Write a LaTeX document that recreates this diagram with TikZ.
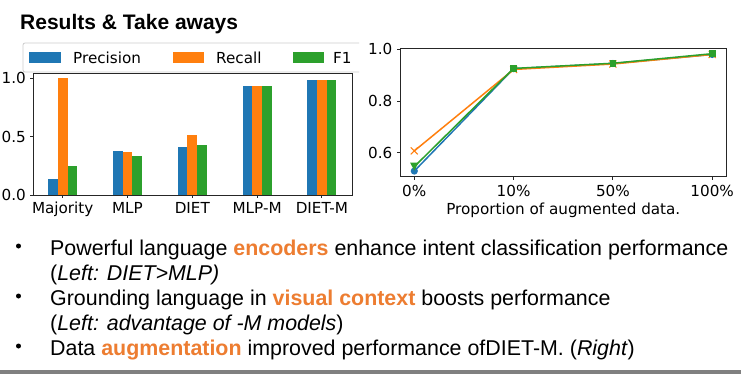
\documentclass[tikz,border=0pt]{standalone}
\usepackage{fontspec}
\setmainfont{Liberation Sans}
\newfontfamily\dv{DejaVu Sans}
\definecolor{mblue}{HTML}{1F77B4}
\definecolor{morange}{HTML}{FF7F0E}
\definecolor{mgreen}{HTML}{2CA02C}
\definecolor{hl}{HTML}{ED7D31}
\newcommand\hlw[1]{{\bfseries\color{hl}#1}}
\tikzset{
  plotfont/.style={font=\dv\fontsize{15.2}{18}\selectfont, inner sep=0pt},
  spine/.style={draw=black!85, line width=0.9pt},
  tickln/.style={black!85, line width=0.9pt},
  bodytext/.style={font=\fontsize{21.4}{26}\selectfont, inner sep=0pt, anchor=base west},
  dataline/.style={line width=1.5pt, line join=round},
}
\begin{document}
\begin{tikzpicture}[x=1pt,y=-1pt]
\useasboundingbox (0,0) rectangle (741,374);
\fill[white] (0,0) rectangle (741,374);

% title
\node[font=\fontsize{21}{25}\selectfont\bfseries, inner sep=0pt, anchor=base west] (title) at (20,30) {Results \& Take aways};

% ---------- left bar chart ----------
\foreach \c/\p/\r/\f in {62.7/0.14/1.0/0.25, 127.5/0.38/0.37/0.33, 192.3/0.41/0.51/0.43, 257.1/0.93/0.93/0.93, 321.9/0.98/0.98/0.98} {
  \fill[mblue]   (\c-14.5,195) rectangle (\c-4.85,195-117*\p);
  \fill[morange] (\c-4.85,195) rectangle (\c+4.85,195-117*\r);
  \fill[mgreen]  (\c+4.85,195) rectangle (\c+14.5,195-117*\f);
  \draw[tickln] (\c,195) -- (\c,198.5);
}
\draw[spine] (33,73) rectangle (352,195);
\foreach \v/\t in {0/0.0, 0.5/0.5, 1/1.0} {
  \draw[tickln] (33,195-117*\v) -- (29.5,195-117*\v);
  \node[plotfont, anchor=east] (ly\t) at (26,195-117*\v) {\t};
}
\foreach \c/\t in {62.7/Majority, 127.5/MLP, 192.3/DIET, 257.1/MLP-M, 321.9/DIET-M} {
  \node[plotfont, anchor=base] (lx\t) at (\c,213.5) {\t};
}
% legend (clipped at right)
\fill[white, opacity=0.85] (23,43) rectangle (359,72);
\draw[draw=black!20, line width=0.8pt, rounded corners=2pt] (359,43) -- (23,43) -- (23,72) -- (359,72);
\fill[mblue]   (29,51.7) rectangle (61,63.3);
\fill[morange] (173,51.7) rectangle (204,63.3);
\fill[mgreen]  (293,51.7) rectangle (324,63.3);
\node[plotfont, anchor=base west] (legP) at (73,63.3) {Precision};
\node[plotfont, anchor=base west] (legR) at (216,63.3) {Recall};
\node[plotfont, anchor=base west] (legF) at (333,63.3) {F1};

% ---------- right line chart ----------
\draw[spine] (400,48.3) rectangle (726.7,176.7);
\foreach \y/\t in {152.7/0.6, 101/0.8, 49.3/1.0} {
  \draw[tickln] (400,\y) -- (396.5,\y);
  \node[plotfont, anchor=east] (ry\t) at (392.5,\y) {\t};
}
\foreach \x/\t [count=\i] in {414.3/0\%, 513.6/10\%, 612.9/50\%, 712.2/100\%} {
  \draw[tickln] (\x,176.7) -- (\x,180.2);
  \node[plotfont, anchor=base] (rx\i) at (\x,196.7) {\t};
}
\node[plotfont, anchor=base] (xlab) at (563.3,214.3) {Proportion of augmented data.};

% blue
\draw[dataline, mblue] (414.3,171.05) -- (513.6,68.69) -- (612.9,63.52) -- (712.2,54.47);
\foreach \x/\y in {414.3/171.05, 513.6/68.69, 612.9/63.52, 712.2/54.47}
  \fill[mblue] (\x,\y) circle (3.6);
% orange
\draw[dataline, morange] (414.3,150.89) -- (513.6,69.46) -- (612.9,64.03) -- (712.2,54.47);
\foreach \x/\y in {414.3/150.89, 513.6/69.46, 612.9/64.03, 712.2/54.47}
  \draw[morange, line width=1pt] (\x-3.5,\y-3.5) -- (\x+3.5,\y+3.5) (\x-3.5,\y+3.5) -- (\x+3.5,\y-3.5);
% green
\draw[dataline, mgreen] (414.3,166.66) -- (513.6,68.43) -- (612.9,63.26) -- (712.2,53.69);
\fill[mgreen] (414.3-4.2,166.66-4) -- (414.3+4.2,166.66-4) -- (414.3,166.66+4) -- cycle;
\foreach \x/\y in {513.6/68.43, 612.9/63.26, 712.2/53.69}
  \fill[mgreen] (\x-3.3,\y-3.3) rectangle (\x+3.3,\y+3.3);

% ---------- bullets ----------
\foreach \y in {255,305,355} \fill (18.5,\y-9) circle (2.5);
\node[bodytext] (b1) at (50,255) {Powerful language \hlw{encoders} enhance intent classification performance};
\node[bodytext] (b1b) at (50,280) {(\textit{Left: DIET>MLP)}};
\node[bodytext] (b2) at (50,305) {Grounding language in \hlw{visual context} boosts performance};
\node[bodytext] (b2b) at (50,330) {(\textit{Left: advantage of -M models})};
\node[bodytext] (b3) at (50,355) {Data \hlw{augmentation} improved performance ofDIET-M. (\textit{Right})};

\fill[black!50] (0,370) rectangle (741,374);
\end{tikzpicture}
\end{document}
